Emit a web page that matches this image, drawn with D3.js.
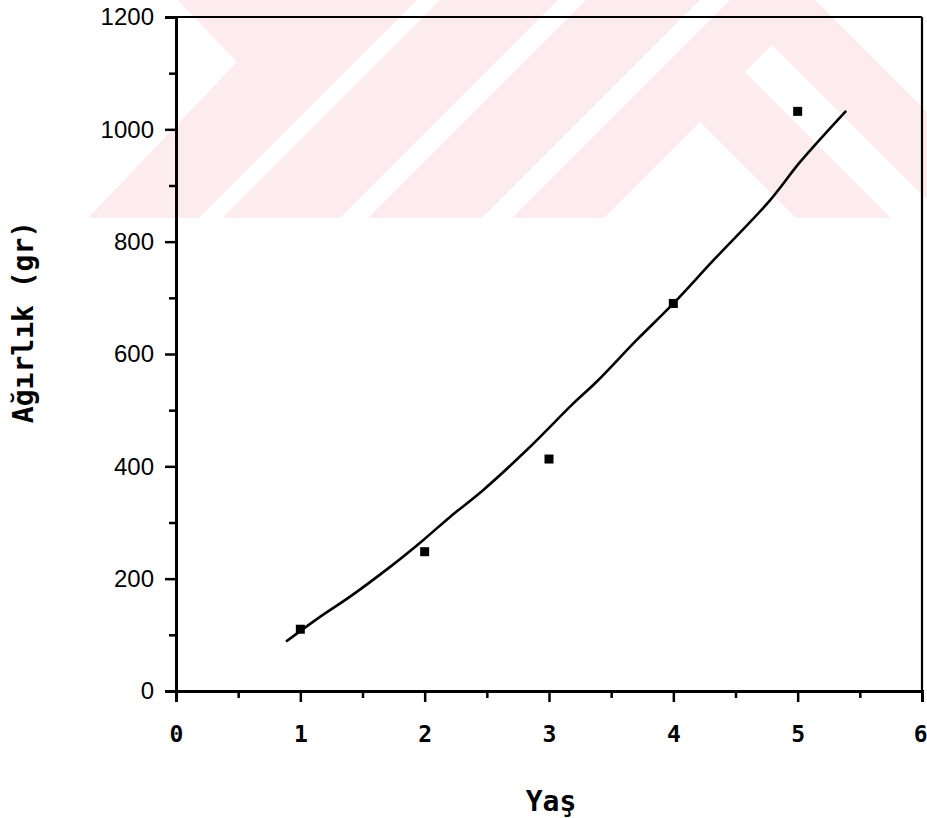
<!DOCTYPE html>
<html>
<head>
<meta charset="utf-8">
<script src="https://cdn.jsdelivr.net/npm/d3@7"></script>
<style>
html,body{margin:0;padding:0;background:#fff;}
svg{display:block;}
</style>
</head>
<body>
<svg id="chart" width="927" height="818"></svg>
<script>
// ---- data ----
const ageValues = [1, 2, 3, 4, 5];
const weightValues = [110, 248, 413, 690, 1032];
const fitX = [0.885, 1.158, 1.40, 1.722, 1.99, 2.204, 2.472, 2.821, 3.196, 3.385, 3.706, 4.001, 4.323, 4.779, 5.02, 5.39];
const fitY = [88, 132, 168, 221, 269, 310, 358, 429, 512, 551, 625, 690, 767, 874, 942, 1033];
const xTicks = [0, 1, 2, 3, 4, 5, 6];
const xMinorTicks = [0.5, 1.5, 2.5, 3.5, 4.5, 5.5];
const yTicks = [0, 200, 400, 600, 800, 1000, 1200];
const yMinorTicks = [100, 300, 500, 700, 900, 1100];
const xTitle = "Yaş";
const yTitle = "Ağırlık (gr)";

const svg = d3.select("#chart");
const W = 927, H = 818;
const m = {left: 176, top: 17, right: 5, bottom: 127};

const x = d3.scaleLinear().domain([0, 6]).range([m.left, W - m.right]);
const y = d3.scaleLinear().domain([0, 1200]).range([H - m.bottom, m.top]);

// ---- background watermark (decorative) ----
const wm = svg.append("g");
const pink = "#fdecef";
wm.append("rect").attr("x", 0).attr("y", 0).attr("width", W).attr("height", 218).attr("fill", pink);
const whites = [
  [[0,0],[178,0],[237,62],[88,218],[0,218]],      // left notch
  [[199,218],[222,218],[440,0],[417,0]],           // gap 1
  [[340,218],[368,218],[586,0],[558,0]],           // gap 2
  [[482,218],[512,218],[730,0],[700,0]],           // gap 3
  [[604,218],[700,122],[796,218]],                 // lower chevron hole
  [[772,45],[927,200],[927,254],[745,72]],         // chevron band
  [[815,0],[927,0],[927,112]]                      // top-right
];
whites.forEach(p => wm.append("polygon").attr("points", p.map(d => d.join(",")).join(" ")).attr("fill", "#fff"));

// ---- frame ----
svg.append("line").attr("x1", x(0) - 6).attr("x2", x(6)).attr("y1", y(1200)).attr("y2", y(1200))
  .attr("stroke", "#000").attr("stroke-width", 2.2);
svg.append("line").attr("x1", x(6)).attr("x2", x(6)).attr("y1", y(1200)).attr("y2", y(0))
  .attr("stroke", "#000").attr("stroke-width", 2.2);

// ---- axes ----
const xAxis = svg.append("g").attr("transform", `translate(0,${y(0)})`)
  .call(d3.axisBottom(x).tickValues(xTicks).tickSize(11).tickPadding(24).tickFormat(d3.format("d")));
const xMinor = svg.append("g").attr("transform", `translate(0,${y(0)})`)
  .call(d3.axisBottom(x).tickValues(xMinorTicks).tickSize(7).tickFormat(""));
const yAxis = svg.append("g").attr("transform", `translate(${x(0)},0)`)
  .call(d3.axisLeft(y).tickValues(yTicks).tickSize(11).tickPadding(10).tickFormat(d3.format("d")));
const yMinor = svg.append("g").attr("transform", `translate(${x(0)},0)`)
  .call(d3.axisLeft(y).tickValues(yMinorTicks).tickSize(7).tickFormat(""));

[xAxis, xMinor, yAxis, yMinor].forEach(g => {
  g.select(".domain").attr("stroke", "#000").attr("stroke-width", 3);
  g.selectAll(".tick line").attr("stroke", "#000").attr("stroke-width", 2.5);
});
xMinor.select(".domain").remove();
yMinor.select(".domain").remove();

xAxis.selectAll(".tick text")
  .attr("font-family", "'DejaVu Sans Mono', 'Liberation Mono', monospace")
  .attr("font-weight", "bold").attr("font-size", 23).attr("fill", "#000");
// keep the last label inside the page
xAxis.selectAll(".tick text").filter(d => d === 6)
  .attr("text-anchor", "end").attr("x", W - m.right - x(6) + 5);
yAxis.selectAll(".tick text")
  .attr("font-family", "'Liberation Sans', Arial, sans-serif")
  .attr("font-size", 24).attr("fill", "#000").attr("dx", "-1");

// ---- fitted curve ----
const fitData = fitX.map((d, i) => ({x: d, y: fitY[i]}));
svg.append("path").datum(fitData)
  .attr("d", d3.line().x(d => x(d.x)).y(d => y(d.y)).curve(d3.curveCatmullRom))
  .attr("fill", "none").attr("stroke", "#000").attr("stroke-width", 2.6);

// ---- points ----
const s = 9;
svg.selectAll("rect.pt").data(ageValues.map((d, i) => ({x: d, y: weightValues[i]})))
  .enter().append("rect").attr("class", "pt")
  .attr("x", d => x(d.x) - s / 2).attr("y", d => y(d.y) - s / 2)
  .attr("width", s).attr("height", s).attr("fill", "#000");

// ---- titles ----
svg.append("text").attr("x", (x(0) + x(6)) / 2 + 2).attr("y", 811)
  .attr("text-anchor", "middle")
  .attr("font-family", "'DejaVu Sans Mono', 'Liberation Mono', monospace")
  .attr("font-weight", "bold").attr("font-size", 28).attr("fill", "#000")
  .text(xTitle);
svg.append("text")
  .attr("transform", "translate(33,322) rotate(-90)")
  .attr("text-anchor", "middle")
  .attr("font-family", "'DejaVu Sans Mono', 'Liberation Mono', monospace")
  .attr("font-weight", "bold").attr("font-size", 28).attr("fill", "#000")
  .text(yTitle);
</script>
</body>
</html>
